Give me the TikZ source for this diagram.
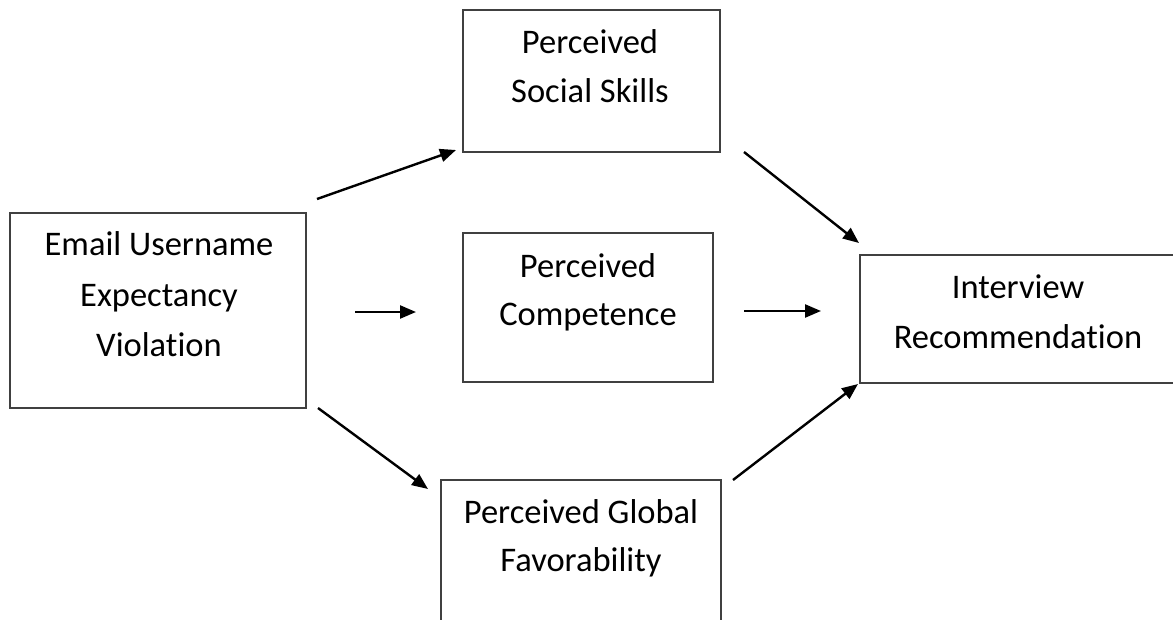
\documentclass[tikz,border=0pt]{standalone}
\usepackage{fontspec}
\setmainfont[Ligatures=NoCommon]{Carlito}
\usetikzlibrary{arrows.meta}
\begin{document}
\begin{tikzpicture}[x=1pt,y=-1pt,
  box/.style={draw=black!75, line width=1.3pt, rectangle, inner sep=0pt},
  lbl/.style={anchor=base, inner sep=0pt, font=\fontsize{34.5}{40}\selectfont},
  arr/.style={line width=2.4pt, -{Triangle[length=16pt,width=13pt]}}]
\useasboundingbox (0,0) rectangle (1173,619);
\clip (0,0) rectangle (1173,619);
\fill[white] (0,0) rectangle (1173,619);
% boxes
\node[box, minimum width=296pt, minimum height=195pt] (ev) at (158,310.5) {};
\node[box, minimum width=257pt, minimum height=142pt] (ss) at (591.5,81) {};
\node[box, minimum width=250pt, minimum height=149pt] (pc) at (588,307.5) {};
\node[box, minimum width=280pt, minimum height=160pt] (gf) at (581,560) {};
\node[box, minimum width=318pt, minimum height=128pt] (ir) at (1019,319) {};
% texts
\node[lbl] (t1) at (159,255) {Email Username};
\node[lbl] (t2) at (159,306) {Expectancy};
\node[lbl] (t3) at (159,356) {Violation};
\node[lbl] (t4) at (590,53) {Perceived};
\node[lbl] (t5) at (590,102) {Social Skills};
\node[lbl] (t6) at (588,277) {Perceived};
\node[lbl] (t7) at (588,325) {Competence};
\node[lbl] (t8) at (581,523) {Perceived Global};
\node[lbl] (t9) at (581,571) {Favorability};
\node[lbl] (t10) at (1018,298) {Interview};
\node[lbl] (t11) at (1018,348) {Recommendation};
% arrow end points
\coordinate (a1s) at (317,199); \coordinate (a1e) at (456,150);
\coordinate (a2s) at (355,312); \coordinate (a2e) at (416,312);
\coordinate (a3s) at (318,408); \coordinate (a3e) at (428,489);
\coordinate (a4s) at (744,152); \coordinate (a4e) at (859,243);
\coordinate (a5s) at (744,311); \coordinate (a5e) at (821,311);
\coordinate (a6s) at (733,480); \coordinate (a6e) at (858,384);
\draw[arr] (a1s) -- (a1e);
\draw[arr] (a2s) -- (a2e);
\draw[arr] (a3s) -- (a3e);
\draw[arr] (a4s) -- (a4e);
\draw[arr] (a5s) -- (a5e);
\draw[arr] (a6s) -- (a6e);
\end{tikzpicture}
\end{document}
